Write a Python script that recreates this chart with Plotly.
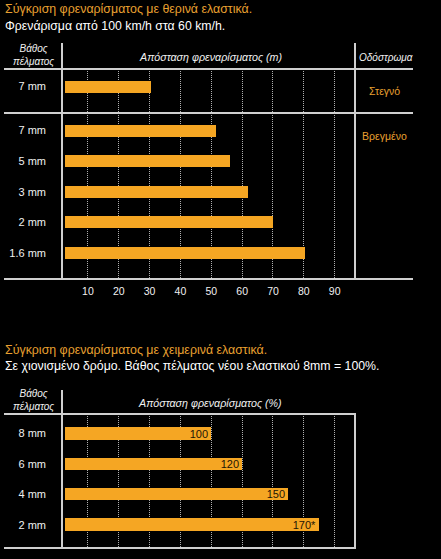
import plotly.graph_objects as go

# ---------------- data ----------------
dry_depths = ["7 mm"]
dry_distance_m = [30.5]

wet_depths = ["7 mm", "5 mm", "3 mm", "2 mm", "1.6 mm"]
wet_distance_m = [51.5, 56, 62, 70, 80.5]

top_ticks = [10, 20, 30, 40, 50, 60, 70, 80, 90]

winter_depths = ["8 mm", "6 mm", "4 mm", "2 mm"]
winter_distance_pct = [100, 120, 150, 170]
winter_labels = ["100", "120", "150", "170*"]

bottom_grid = [20, 40, 60, 80, 100, 120, 140, 160, 180]

# ---------------- style / layout ----------------
W, H = 441, 559
FONT = "Liberation Sans, Arial, sans-serif"
BAR = "#f5a623"
ORANGE = "#e9a030"
LINE = "#cfcfcf"
GRID = "#b0b0b0"
TXT = "#f0f0f0"

BASE_TOP = 2.65     # bars start a little right of the divider
BASE_BOT = 5.3


def px(x):
    return x / W


def py(y):
    return 1 - y / H


fig = go.Figure()

fig.add_trace(go.Bar(
    y=dry_depths, x=[v - BASE_TOP for v in dry_distance_m], base=BASE_TOP,
    orientation="h", marker=dict(color=BAR, line=dict(width=0)),
    width=0.27, xaxis="x", yaxis="y", hoverinfo="skip", showlegend=False))

fig.add_trace(go.Bar(
    y=wet_depths, x=[v - BASE_TOP for v in wet_distance_m], base=BASE_TOP,
    orientation="h", marker=dict(color=BAR, line=dict(width=0)),
    width=0.39, xaxis="x", yaxis="y2", hoverinfo="skip", showlegend=False))

fig.add_trace(go.Bar(
    y=winter_depths, x=[v - BASE_BOT for v in winter_distance_pct], base=BASE_BOT,
    orientation="h", marker=dict(color=BAR, line=dict(width=0)),
    width=0.41, xaxis="x2", yaxis="y3", hoverinfo="skip", showlegend=False,
    text=winter_labels, textposition="inside", insidetextanchor="end",
    textangle=0, textfont=dict(family=FONT, size=11, color="#1e1505"),
    constraintext="none"))

ytick_font = dict(family=FONT, size=11, color=TXT)

fig.update_layout(
    width=W, height=H,
    margin=dict(l=0, r=0, t=0, b=0),
    paper_bgcolor="black", plot_bgcolor="black",
    bargap=0,
    xaxis=dict(domain=[px(62), px(355)], range=[1.59, 96.6], anchor="y2",
               tickmode="array", tickvals=top_ticks,
               showgrid=True, gridcolor=GRID, gridwidth=1, griddash="1px,1px",
               zeroline=False, showline=False, ticks="",
               tickfont=dict(family=FONT, size=10.5, color=TXT),
               ticklabelstandoff=4, fixedrange=True),
    yaxis=dict(domain=[py(113), py(69)], type="category", range=[-0.6, 0.4],
               anchor="x", showgrid=False, zeroline=False, showline=False,
               ticks="", tickfont=ytick_font, ticklabelstandoff=15),
    yaxis2=dict(domain=[py(279), py(113)], type="category",
                range=[4.857, -0.577], anchor="x", showgrid=False,
                zeroline=False, showline=False, ticks="", tickfont=ytick_font,
                ticklabelstandoff=15),
    xaxis2=dict(domain=[px(62), px(355)], range=[3.17, 193.2], anchor="y3",
                tickmode="array", tickvals=bottom_grid, showticklabels=False,
                showgrid=True, gridcolor=GRID, gridwidth=1, griddash="1px,1px",
                zeroline=False, showline=False, ticks="", fixedrange=True),
    yaxis3=dict(domain=[py(548), py(414)], type="category",
                range=[3.764, -0.633], anchor="x2", showgrid=False,
                zeroline=False, showline=False, ticks="", tickfont=ytick_font,
                ticklabelstandoff=15),
)

# ---------------- frame lines ----------------
def hline(y, x0, x1):
    fig.add_shape(type="line", xref="paper", yref="paper",
                  x0=px(x0), x1=px(x1), y0=py(y), y1=py(y),
                  line=dict(color=LINE, width=2), layer="above")


def vline(x, y0, y1):
    fig.add_shape(type="line", xref="paper", yref="paper",
                  x0=px(x), x1=px(x), y0=py(y0), y1=py(y1),
                  line=dict(color=LINE, width=2), layer="above")


hline(69, 4, 413)
hline(113, 4, 413)
hline(279, 4, 413)
vline(62, 43, 279)
vline(355, 43, 279)

hline(414, 4, 356)
hline(548, 4, 356)
vline(62, 390, 548)
vline(355, 414, 548)

# ---------------- texts ----------------
def note(text, x, y, xanchor="left", size=11, color=TXT, italic=False):
    fig.add_annotation(text=text, x=px(x), y=py(y), xref="paper", yref="paper",
                       xanchor=xanchor, yanchor="middle", showarrow=False,
                       align="center" if xanchor == "center" else "left",
                       font=dict(family=FONT, size=size, color=color,
                                 style="italic" if italic else "normal"))


note("Σύγκριση φρεναρίσματος με θερινά ελαστικά.", 3, 9.5, color=ORANGE, size=12.4)
note("Φρενάρισμα από 100 km/h στα 60 km/h.", 3, 26, color="white", size=12.3)
note("Βάθος<br>πέλματος", 33, 54.5, xanchor="center", size=10, italic=True)
note("Απόσταση φρεναρίσματος (m)", 210, 57, xanchor="center", size=10.7, italic=True)
note("Οδόστρωμα", 357, 57, size=10, italic=True)
note("Στεγνό", 384, 91, xanchor="center", size=10.5, color=ORANGE)
note("Βρεγμένο", 384, 136, xanchor="center", size=10.5, color=ORANGE)

note("Σύγκριση φρεναρίσματος με χειμερινά ελαστικά.", 3, 350, color=ORANGE, size=12.4)
note("Σε χιονισμένο δρόμο. Βάθος πέλματος νέου ελαστικού 8mm = 100%.", 3, 366,
     color="white", size=12.3)
note("Βάθος<br>πέλματος", 33, 399.5, xanchor="center", size=10, italic=True)
note("Απόσταση φρεναρίσματος (%)", 210, 402.5, xanchor="center", size=10.7, italic=True)

fig.write_html("out.html")
